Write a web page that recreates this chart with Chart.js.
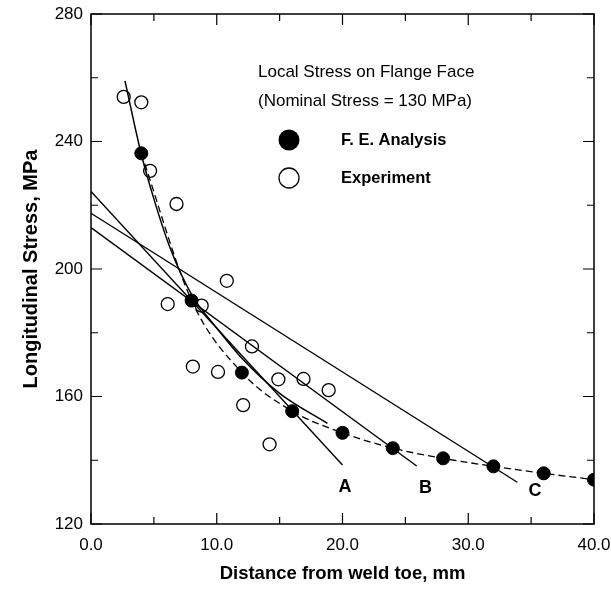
<!DOCTYPE html>
<html><head><meta charset="utf-8">
<script src="https://cdn.jsdelivr.net/npm/chart.js@4.4.0/dist/chart.umd.min.js"></script>
<style>html,body{margin:0;padding:0;background:#fff;}</style>
</head><body>
<canvas id="c" width="611" height="590"></canvas>
<script>
// ---- data ----
const feX = [4, 8, 12, 16, 20, 24, 28, 32, 36, 40];
const feY = [236.3, 190.1, 167.5, 155.4, 148.6, 143.8, 140.6, 138.1, 135.9, 133.9];

const expX = [2.6, 4.0, 4.7, 6.8, 6.1, 8.8, 10.8, 12.8, 8.1, 10.1, 14.9, 16.9, 18.9, 12.1, 14.2];
const expY = [254, 252.3, 230.8, 220.4, 189, 188.5, 196.3, 175.7, 169.4, 167.7, 165.4, 165.5, 162, 157.3, 145];

const fitX = [2.7, 4, 5, 6.3, 8, 10, 12, 15, 18.8];
const fitY = [259, 236, 222, 206.5, 192, 181.5, 172, 161, 151.6];

const lineAX = [0, 20.0];  const lineAY = [224.3, 138.5];
const lineBX = [0, 25.9];  const lineBY = [213.0, 138.2];
const lineCX = [0, 33.9];  const lineCY = [217.5, 133.1];

const lineLabels = ['A', 'B', 'C'];
const lineLabelX = [20.2, 26.6, 35.3];
const lineLabelY = [131.6, 131.3, 130.4];

const xTickLabels = [0, 10, 20, 30, 40];
const yTickLabels = [120, 160, 200, 240, 280];

const legendTitle = ['Local Stress on Flange Face', '(Nominal Stress = 130 MPa)'];
const seriesNames = ['F. E. Analysis', 'Experiment'];
const xTitle = 'Distance from weld toe, mm';
const yTitle = 'Longitudinal Stress, MPa';

// ---- build ----
const FONT = "'Liberation Sans', Arial, Helvetica, sans-serif";
const pts = (xs, ys) => xs.map((x, i) => ({x: x, y: ys[i]}));

const framePlugin = {
  id: 'frame',
  afterDatasetsDraw(chart) {
    const ctx = chart.ctx, ca = chart.chartArea;
    const xs = chart.scales.x, ys = chart.scales.y;
    ctx.save();
    ctx.strokeStyle = '#000';
    ctx.lineWidth = 1.5;
    ctx.strokeRect(ca.left, ca.top, ca.right - ca.left, ca.bottom - ca.top);
    ctx.lineWidth = 1.2;
    ctx.beginPath();
    xs.ticks.forEach(t => {
      const px = xs.getPixelForValue(t.value);
      const len = xTickLabels.includes(t.value) ? 11 : 7;
      ctx.moveTo(px, ca.bottom); ctx.lineTo(px, ca.bottom - len);
      ctx.moveTo(px, ca.top); ctx.lineTo(px, ca.top + len);
    });
    ys.ticks.forEach(t => {
      const py = ys.getPixelForValue(t.value);
      const len = yTickLabels.includes(t.value) ? 11 : 7;
      ctx.moveTo(ca.left, py); ctx.lineTo(ca.left + len, py);
      ctx.moveTo(ca.right, py); ctx.lineTo(ca.right - len, py);
    });
    ctx.stroke();

    // line labels A, B, C
    ctx.fillStyle = '#000';
    ctx.font = 'bold 18px ' + FONT;
    ctx.textAlign = 'center';
    ctx.textBaseline = 'middle';
    lineLabels.forEach((s, i) => {
      ctx.fillText(s, xs.getPixelForValue(lineLabelX[i]), ys.getPixelForValue(lineLabelY[i]));
    });

    // legend block
    const lx = ca.left + 167;
    ctx.textAlign = 'left';
    ctx.font = '17px ' + FONT;
    ctx.fillText(legendTitle[0], lx, ca.top + 58);
    ctx.fillText(legendTitle[1], lx, ca.top + 87);
    const mx = ca.left + 198;
    ctx.beginPath(); ctx.arc(mx, ca.top + 126, 10.5, 0, Math.PI * 2); ctx.fill();
    ctx.lineWidth = 1.3;
    ctx.beginPath(); ctx.arc(mx, ca.top + 164, 10, 0, Math.PI * 2); ctx.stroke();
    ctx.font = 'bold 16.5px ' + FONT;
    ctx.fillText(seriesNames[0], ca.left + 250, ca.top + 126);
    ctx.fillText(seriesNames[1], ca.left + 250, ca.top + 164);
    ctx.restore();
  }
};

new Chart(document.getElementById('c'), {
  type: 'scatter',
  data: {
    datasets: [
      { label: seriesNames[1], data: pts(expX, expY), showLine: false, order: 0,
        pointRadius: 6.5, pointBackgroundColor: 'rgba(0,0,0,0)', pointBorderColor: '#000', pointBorderWidth: 1.3 },
      { label: seriesNames[0], data: pts(feX, feY), showLine: true, order: 1,
        borderColor: '#000', borderWidth: 1.3, borderDash: [7, 4], cubicInterpolationMode: 'monotone',
        pointRadius: 6.5, pointBackgroundColor: '#000', pointBorderColor: '#000', pointBorderWidth: 1 },
      { label: 'fit', data: pts(fitX, fitY), showLine: true, order: 2,
        borderColor: '#000', borderWidth: 1.5, cubicInterpolationMode: 'monotone', pointRadius: 0 },
      { label: 'A', data: pts(lineAX, lineAY), showLine: true, order: 3, borderColor: '#000', borderWidth: 1.4, pointRadius: 0 },
      { label: 'B', data: pts(lineBX, lineBY), showLine: true, order: 3, borderColor: '#000', borderWidth: 1.4, pointRadius: 0 },
      { label: 'C', data: pts(lineCX, lineCY), showLine: true, order: 3, borderColor: '#000', borderWidth: 1.4, pointRadius: 0 }
    ]
  },
  options: {
    responsive: false, animation: false,
    layout: { padding: { top: 14, right: 17, bottom: 0, left: 0 } },
    plugins: { legend: { display: false }, tooltip: { enabled: false } },
    scales: {
      x: {
        type: 'linear', min: 0, max: 40,
        border: { display: false },
        grid: { display: false, drawTicks: false },
        ticks: { stepSize: 5, autoSkip: false, maxRotation: 0, padding: 11, color: '#000',
                 font: { family: FONT, size: 17 },
                 callback: v => xTickLabels.includes(v) ? v.toFixed(1) : '' },
        title: { display: true, text: xTitle, color: '#000',
                 font: { family: FONT, size: 18.5, weight: 'bold' }, padding: { top: 0, bottom: 5 } },
        afterFit(s) { s.height = 66; s.paddingLeft = 0; s.paddingRight = 0; }
      },
      y: {
        type: 'linear', min: 120, max: 280,
        border: { display: false },
        grid: { display: false, drawTicks: false },
        ticks: { stepSize: 20, autoSkip: false, padding: 8, color: '#000',
                 font: { family: FONT, size: 17 },
                 callback: v => yTickLabels.includes(v) ? String(v) : '' },
        title: { display: true, text: yTitle, color: '#000',
                 font: { family: FONT, size: 20, weight: 'bold' }, padding: { top: 19, bottom: 0 } },
        afterFit(s) { s.width = 91; s.paddingTop = 0; s.paddingBottom = 0; }
      }
    }
  },
  plugins: [framePlugin]
});
</script>
</body></html>
